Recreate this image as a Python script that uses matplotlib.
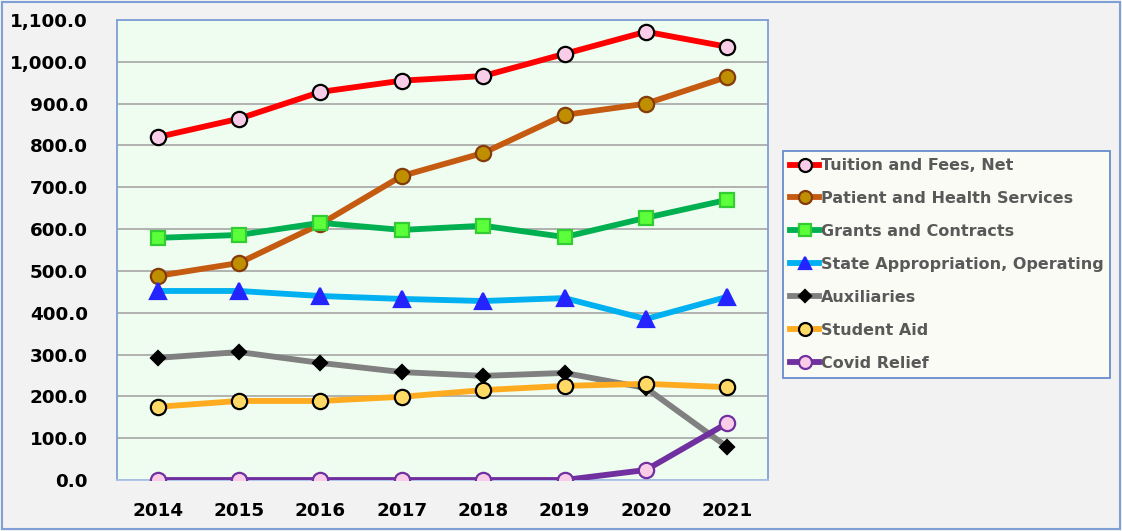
import matplotlib
matplotlib.use("Agg")
import matplotlib.pyplot as plt
from matplotlib.ticker import FuncFormatter, MultipleLocator

years = ["2014", "2015", "2016", "2017", "2018", "2019", "2020", "2021"]

tuition = [820, 864, 928, 955, 966, 1019, 1072, 1036]
patient = [488, 519, 612, 727, 782, 873, 900, 964]
grants = [579, 586, 615, 598, 608, 581, 627, 670]
state_approp = [452, 452, 440, 433, 428, 435, 385, 438]
auxiliaries = [292, 306, 280, 258, 249, 256, 220, 79]
student_aid = [175, 189, 189, 199, 215, 225, 230, 222]
covid_relief = [0, 0, 0, 0, 0, 0, 24, 136]

series = [
    ("Tuition and Fees, Net", tuition, "#ff0000", "o", "#f9cce8", "#000000", 11),
    ("Patient and Health Services", patient, "#c55a11", "o", "#bf8f00", "#843c0c", 11),
    ("Grants and Contracts", grants, "#00b050", "s", "#5bff3a", "#33cc33", 10),
    ("State Appropriation, Operating", state_approp, "#00b0f0", "^", "#2424ff", "#2424ff", 11),
    ("Auxiliaries", auxiliaries, "#808080", "D", "#000000", "#000000", 7),
    ("Student Aid", student_aid, "#ffab1f", "o", "#ffd966", "#000000", 11),
    ("Covid Relief", covid_relief, "#7030a0", "o", "#f9cce8", "#7030a0", 11),
]

fig = plt.figure(figsize=(11.22, 5.31), dpi=100, facecolor="#f2f2f2")
fig.patches.append(plt.Rectangle((0.002, 0.003), 0.996, 0.994, transform=fig.transFigure,
                                 fill=False, edgecolor="#7f9fd6", linewidth=1.5))
ax = fig.add_axes([117 / 1122, 1 - 480 / 531, (768 - 117) / 1122, (480 - 20) / 531])
ax.set_facecolor("#effdf0")

x = list(range(len(years)))
for label, vals, color, marker, mfc, mec, ms in series:
    ax.plot(x, vals, color=color, linewidth=4.2, marker=marker, markersize=ms,
            markerfacecolor=mfc, markeredgecolor=mec, markeredgewidth=1.6,
            label=label, zorder=3)

ax.set_xlim(-0.5, len(years) - 0.5)
ax.set_ylim(0, 1100)
ax.yaxis.set_major_locator(MultipleLocator(100))
ax.yaxis.set_major_formatter(FuncFormatter(lambda v, p: f"{v:,.1f}"))
ax.set_xticks(x)
ax.set_xticklabels(years)
ax.grid(axis="y", color="#a6a6a6", linewidth=1.2, zorder=1)
ax.set_axisbelow(True)
ax.tick_params(axis="both", length=0, labelsize=13.2)
ax.tick_params(axis="y", pad=21)
ax.tick_params(axis="x", pad=16)
for lbl in ax.get_xticklabels() + ax.get_yticklabels():
    lbl.set_fontweight("bold")
for side in ["left", "right", "top"]:
    ax.spines[side].set_color("#7f9fd6")
    ax.spines[side].set_linewidth(1.3)
ax.spines["bottom"].set_color("#a9c1e8")
ax.spines["bottom"].set_linewidth(1.3)

leg = fig.legend(loc="upper left", bbox_to_anchor=(783 / 1122, 1 - 151 / 531),
                 frameon=True, fancybox=False, handlelength=1.8, handletextpad=0.1,
                 borderpad=0.45, labelspacing=1.12, borderaxespad=0, markerscale=0.85,
                 prop={"weight": "bold", "size": 11.5})
leg.get_frame().set_facecolor("#fdfef5")
leg.get_frame().set_edgecolor("#4472c4")
leg.get_frame().set_linewidth(1.3)
for t in leg.get_texts():
    t.set_color("#595959")

fig.savefig("out.png", dpi=100, facecolor=fig.get_facecolor())
